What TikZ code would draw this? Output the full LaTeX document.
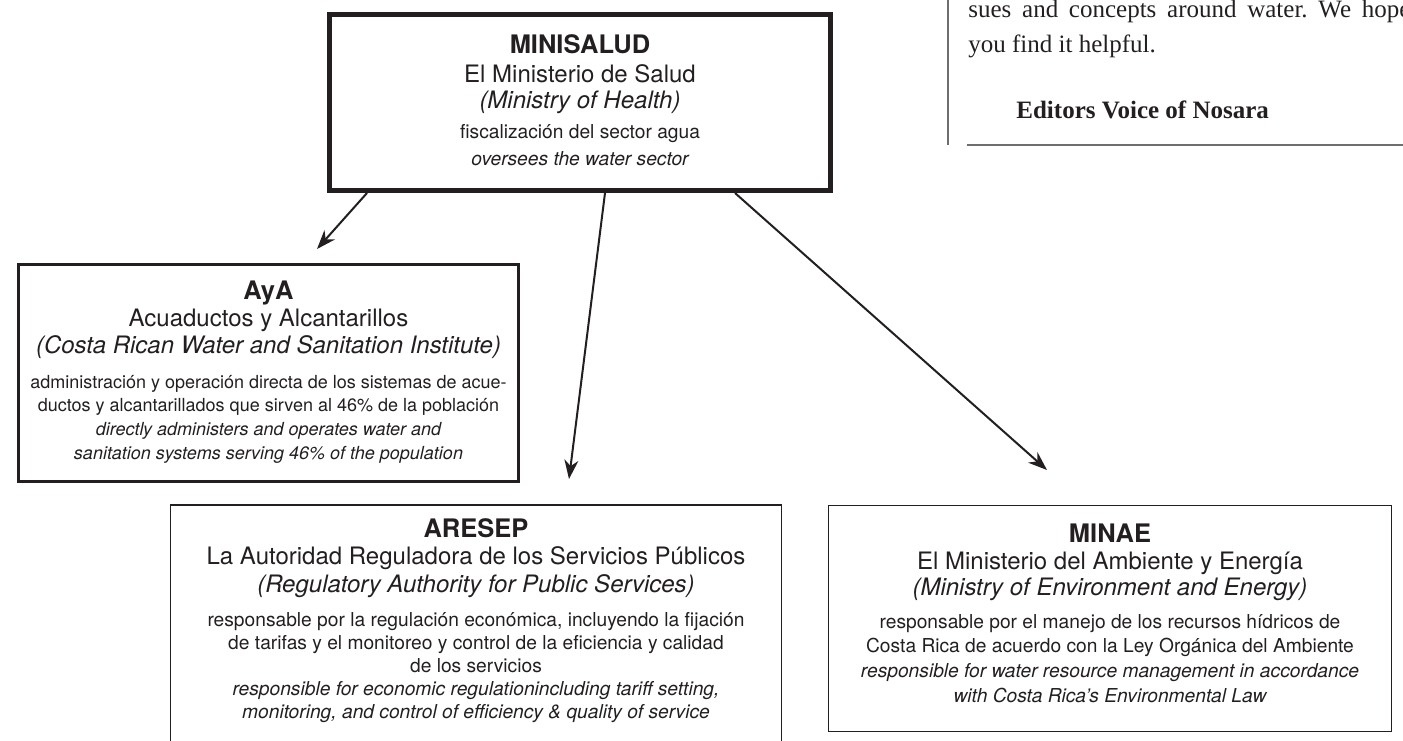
\documentclass[tikz,border=0pt]{standalone}
\usepackage{fontspec}
\setmainfont{TeX Gyre Heros}
\newfontfamily\panelfont{Liberation Serif}
\usetikzlibrary{arrows.meta}

\definecolor{ink}{HTML}{231F20}
\definecolor{rulegray}{HTML}{6D6E70}
\newcommand{\boxtitle}{\fontsize{12.75pt}{13pt}\selectfont\bfseries}
\newcommand{\boxsub}{\fontsize{12pt}{13pt}\selectfont}
\newcommand{\boxbody}{\fontsize{9.6pt}{11.5pt}\selectfont}

\begin{document}
\begin{tikzpicture}[
		x=0.5pt, y=-0.5pt,
		every node/.style={align=center, inner sep=0pt, text=ink, font=\boxbody},
		org/.style={rectangle, draw=ink, line width=0.65pt},
		link/.style={draw=ink, line width=1pt, -{Stealth[length=9.5pt, width=7pt, inset=3pt]}},
		column/.style={anchor=base west, font=\panelfont\fontsize{12.5pt}{14pt}\selectfont}
	]
  \useasboundingbox (0,0) rectangle (1403,740);

  % boxes
  \node (minisalud) [org, line width=2.5pt, minimum width=250.5pt, minimum height=88pt] at (580,102.5) {};
  \node (aya) [org, line width=1.3pt, minimum width=250.2pt, minimum height=108.7pt] at (268.5,373) {};
  \node (aresep) [org, minimum width=305.5pt, minimum height=122.5pt] at (476,627.5) {};
  \node (minae) [org, minimum width=281.5pt, minimum height=113pt] at (1110,618.5) {};

  % box texts
  \node (minisalud_text) at (580,100) {{\boxtitle MINISALUD}\\[3pt]
    {\boxsub El Ministerio de Salud}\\[1.5pt]
    {\boxsub\itshape (Ministry of Health)}\\[3.5pt]
    fiscalización del sector agua\\[2pt]
    {\itshape oversees the water sector}};
  \node (aya_text) [font=\fontsize{9pt}{11.5pt}\selectfont] at (268.5,372) {{\boxtitle AyA}\\[1pt]
    {\boxsub Acuaductos y Alcantarillos}\\[1pt]
    {\boxsub\itshape (Costa Rican Water and Sanitation Institute)}\\[6pt]
    administración y operación directa de los sistemas de acue-\\
    ductos y alcantarillados que sirven al 46\% de la población\\[0.5pt]
    {\itshape directly administers and operates water and}\\[0.5pt]
    {\itshape sanitation systems serving 46\% of the population}};
  \node (aresep_text) at (476,621) {{\boxtitle ARESEP}\\[2pt]
    {\boxsub La Autoridad Reguladora de los Servicios Públicos}\\[1.5pt]
    {\boxsub\itshape (Regulatory Authority for Public Services)}\\[5.5pt]
    responsable por la regulación económica, incluyendo la fijación\\
    de tarifas y el monitoreo y control de la eficiencia y calidad\\
    de los servicios\\
    {\itshape responsible for economic regulationincluding tariff setting,}\\
    {\itshape monitoring, and control of efficiency \& quality of service}};
  \node (minae_text) at (1110,613) {{\boxtitle MINAE}\\[2pt]
    {\boxsub El Ministerio del Ambiente y Energía}\\[1.5pt]
    {\boxsub\itshape (Ministry of Environment and Energy)}\\[5pt]
    responsable por el manejo de los recursos hídricos de\\[0.5pt]
    Costa Rica de acuerdo con la Ley Orgánica del Ambiente\\[1pt]
    {\itshape responsible for water resource management in accordance}\\[1pt]
    {\itshape with Costa Rica’s Environmental Law}};

  % arrows out of MINISALUD
  \coordinate (to_aya) at ([xshift=20pt]minisalud.south west);
  \coordinate (to_aresep) at ([xshift=139pt]minisalud.south west);
  \coordinate (to_minae) at ([xshift=204pt]minisalud.south west);
  \coordinate (aya_in) at (317,249);
  \coordinate (aresep_in) at (569,479);
  \coordinate (minae_in) at (1047,470);
  \draw [link] (to_aya) -- (aya_in);
  \draw [link] (to_aresep) -- (aresep_in);
  \draw [link] (to_minae) -- (minae_in);

  % page column on the right
  \draw [rulegray, line width=0.75pt] (948,0) -- (948,145);
  \draw [rulegray, line width=1pt] (967,145) -- (1403,145);
  \node (col_top) [column] at (968,17) {\hbox to 221pt{sues\hfill and\hfill concepts\hfill around\hfill water.\hfill We\hfill hope}};
  \node (col_mid) [column] at (968,52) {you find it helpful.};
  \node (col_sig) [column, font=\panelfont\fontsize{12.5pt}{14pt}\selectfont\bfseries] at (1016,118) {Editors Voice of Nosara};
\end{tikzpicture}
\end{document}
